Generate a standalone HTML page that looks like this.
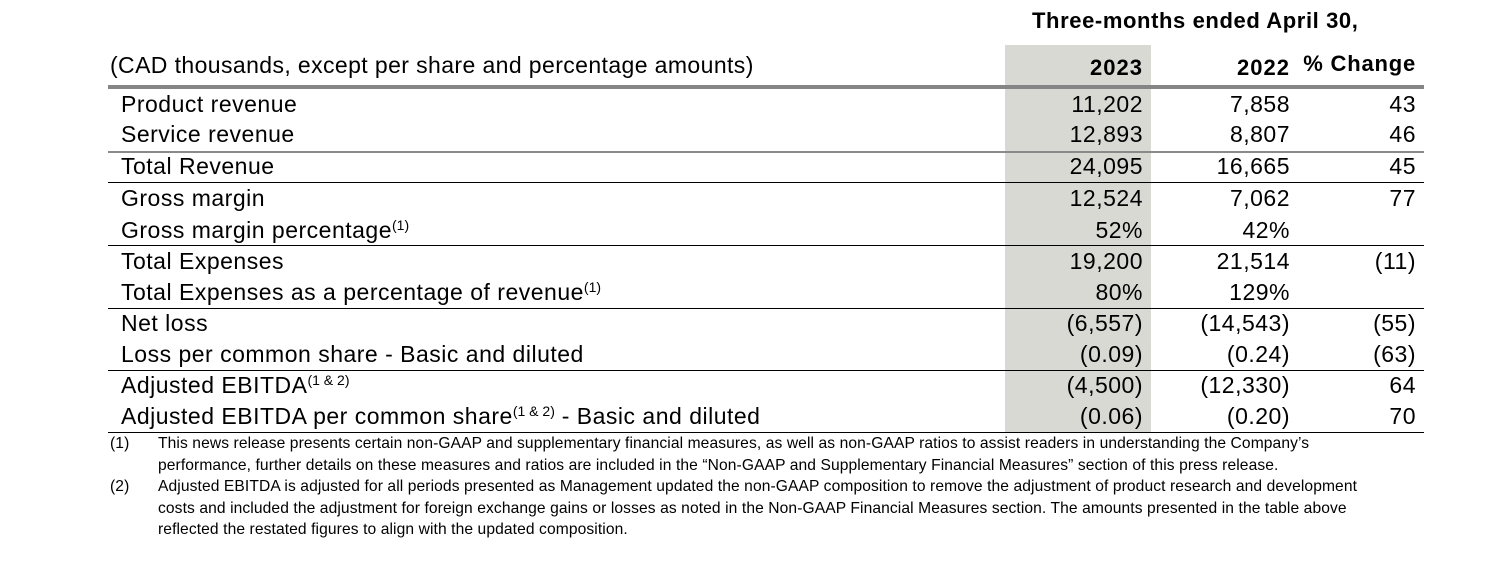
<!DOCTYPE html>
<html><head><style>
body{margin:0;width:1485px;height:573px;background:#fff;position:relative;font-family:"Liberation Sans",Arial,sans-serif;color:#000;overflow:hidden}
.a{position:absolute;white-space:nowrap}
.l{font-size:23px;letter-spacing:0.5px;left:121px}
.r{font-size:23px;letter-spacing:0.5px;text-align:right}
.c1{right:342px}.c2{right:195px}.c3{right:69px}
.ln{position:absolute;left:108px;width:1316px;height:1px;background:#000}
sup{font-size:14px;vertical-align:8px;line-height:0;letter-spacing:0}
.f{font-size:15.6px;line-height:21.5px;letter-spacing:0.1px}
</style></head><body>
<div class="a" style="left:1005px;top:45px;width:146px;height:387px;background:#d9d9d4"></div>
<div class="a" style="left:1032px;top:8px;font-size:22px;font-weight:bold;letter-spacing:0.6px">Three-months ended April 30,</div>
<div class="a" style="left:110px;top:52px;font-size:23px;letter-spacing:0.4px">(CAD thousands, except per share and percentage amounts)</div>
<div class="a r c1" style="top:55px;font-size:22px;font-weight:bold;letter-spacing:1px">2023</div>
<div class="a r c2" style="top:55px;font-size:22px;font-weight:bold;letter-spacing:1px">2022</div>
<div class="a r c3" style="top:51px;font-size:22px;font-weight:bold;letter-spacing:0.8px">% Change</div>
<div class="ln" style="top:85px;height:4px;background:#858585"></div>
<div class="ln" style="top:151px;height:2px;background:#8a8a8a"></div>
<div class="ln" style="top:182px"></div>
<div class="ln" style="top:245px"></div>
<div class="ln" style="top:308px"></div>
<div class="ln" style="top:370px"></div>
<div class="ln" style="top:432px"></div>

<div class="a l" style="top:91px">Product revenue</div><div class="a r c1" style="top:91px">11,202</div><div class="a r c2" style="top:91px">7,858</div><div class="a r c3" style="top:91px">43</div>
<div class="a l" style="top:121px">Service revenue</div><div class="a r c1" style="top:121px">12,893</div><div class="a r c2" style="top:121px">8,807</div><div class="a r c3" style="top:121px">46</div>
<div class="a l" style="top:153px">Total Revenue</div><div class="a r c1" style="top:153px">24,095</div><div class="a r c2" style="top:153px">16,665</div><div class="a r c3" style="top:153px">45</div>
<div class="a l" style="top:185px">Gross margin</div><div class="a r c1" style="top:185px">12,524</div><div class="a r c2" style="top:185px">7,062</div><div class="a r c3" style="top:185px">77</div>
<div class="a l" style="top:217px">Gross margin percentage<sup>(1)</sup></div><div class="a r c1" style="top:217px">52%</div><div class="a r c2" style="top:217px">42%</div>
<div class="a l" style="top:248px">Total Expenses</div><div class="a r c1" style="top:248px">19,200</div><div class="a r c2" style="top:248px">21,514</div><div class="a r c3" style="top:248px">(11)</div>
<div class="a l" style="top:279px">Total Expenses as a percentage of revenue<sup>(1)</sup></div><div class="a r c1" style="top:279px">80%</div><div class="a r c2" style="top:279px">129%</div>
<div class="a l" style="top:310px">Net loss</div><div class="a r c1" style="top:310px">(6,557)</div><div class="a r c2" style="top:310px">(14,543)</div><div class="a r c3" style="top:310px">(55)</div>
<div class="a l" style="top:341px">Loss per common share - Basic and diluted</div><div class="a r c1" style="top:341px">(0.09)</div><div class="a r c2" style="top:341px">(0.24)</div><div class="a r c3" style="top:341px">(63)</div>
<div class="a l" style="top:372px">Adjusted EBITDA<sup>(1 &amp; 2)</sup></div><div class="a r c1" style="top:372px">(4,500)</div><div class="a r c2" style="top:372px">(12,330)</div><div class="a r c3" style="top:372px">64</div>
<div class="a l" style="top:403px">Adjusted EBITDA per common share<sup>(1 &amp; 2)</sup> - Basic and diluted</div><div class="a r c1" style="top:403px">(0.06)</div><div class="a r c2" style="top:403px">(0.20)</div><div class="a r c3" style="top:403px">70</div>

<div class="a f" style="left:110px;top:433px">(1)</div>
<div class="a f" style="left:158px;top:433px">This news release presents certain non-GAAP and supplementary financial measures, as well as non-GAAP ratios to assist readers in understanding the Company’s<br>performance, further details on these measures and ratios are included in the “Non-GAAP and Supplementary Financial Measures” section of this press release.</div>
<div class="a f" style="left:110px;top:476px">(2)</div>
<div class="a f" style="left:158px;top:476px">Adjusted EBITDA is adjusted for all periods presented as Management updated the non-GAAP composition to remove the adjustment of product research and development<br>costs and included the adjustment for foreign exchange gains or losses as noted in the Non-GAAP Financial Measures section. The amounts presented in the table above<br>reflected the restated figures to align with the updated composition.</div>
</body></html>
